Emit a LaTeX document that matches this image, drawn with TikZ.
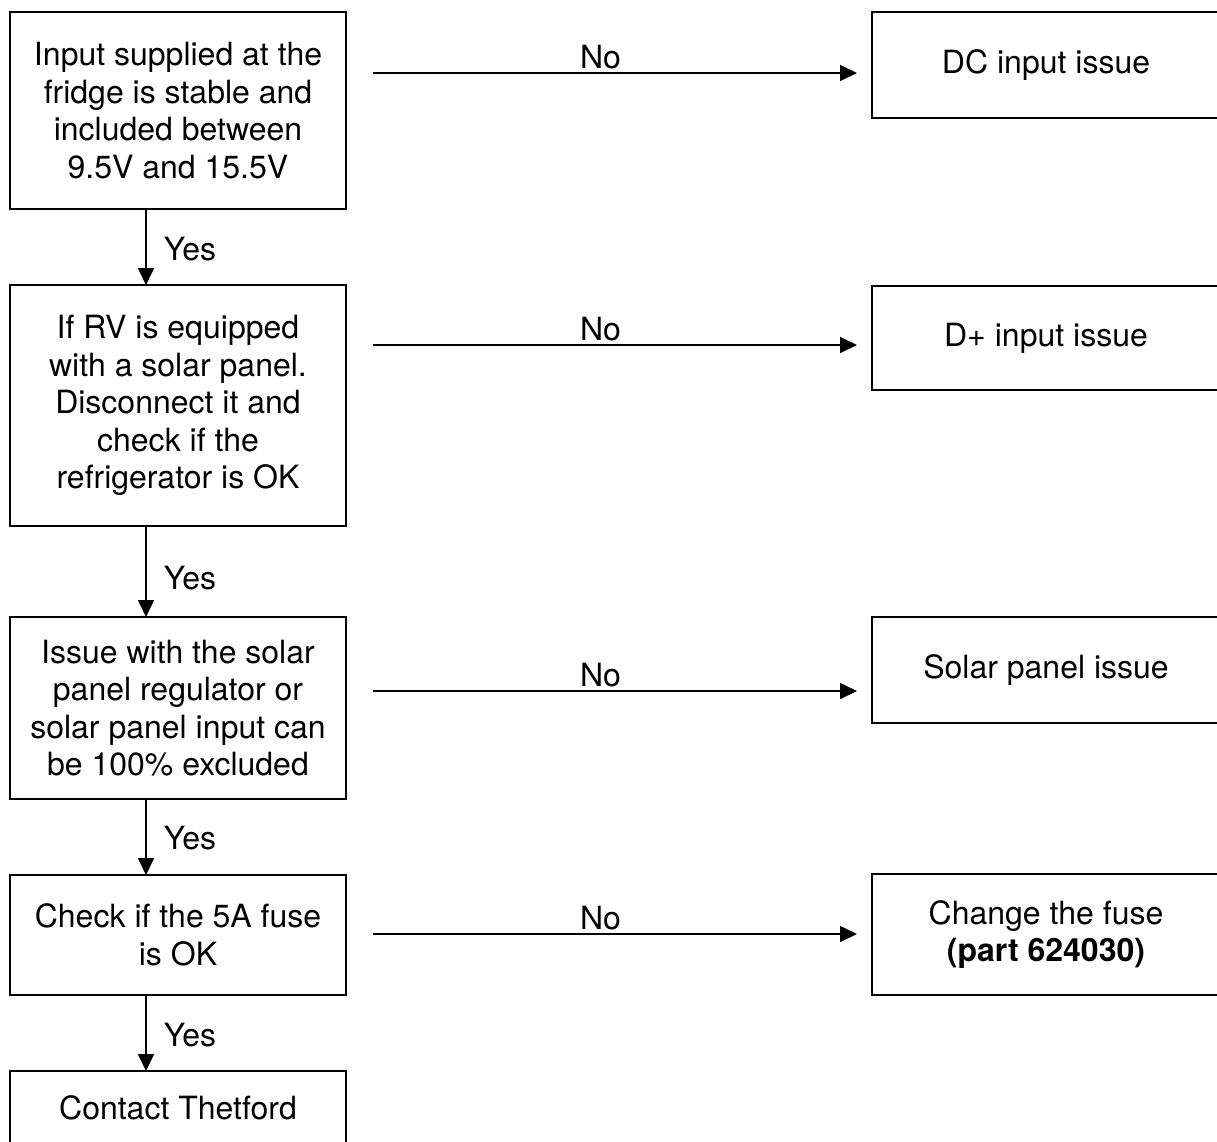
\documentclass[tikz,border=0pt]{standalone}
\usepackage{fontspec}
\setmainfont{TeX Gyre Heros}
\usetikzlibrary{arrows.meta}
\begin{document}
\begin{tikzpicture}[x=1pt,y=1pt,
  every node/.style={font=\fontsize{32}{37.5}\selectfont},
  box/.style={draw=black, line width=1.6pt, rectangle, inner sep=0pt, outer sep=0pt, align=center},
  leftbox/.style={box, minimum width=336pt},
  rightbox/.style={box, minimum width=348pt},
  arr/.style={line width=1.6pt, -{Triangle[length=17pt,width=16pt]}},
  lab/.style={inner sep=0pt}
]
\useasboundingbox (0,0) rectangle (1217,-1141);
\clip (0,0) rectangle (1217,-1141);

% left column
\node[leftbox, minimum height=197pt] (b1) at (178,-110.5)
  {Input supplied at the\\fridge is stable and\\included between\\9.5V and 15.5V};
\node[leftbox, minimum height=241pt] (b2) at (178,-405.5)
  {If RV is equipped\\with a solar panel.\\Disconnect it and\\check if the\\refrigerator is OK};
\node[leftbox, minimum height=182pt] (b3) at (178,-708)
  {Issue with the solar\\panel regulator or\\solar panel input can\\be 100\% excluded};
\node[leftbox, minimum height=120pt] (b4) at (178,-935)
  {Check if the 5A fuse\\is OK};
\node[leftbox, minimum height=74pt] (b5) at (178,-1108)
  {Contact Thetford};

% right column
\node[rightbox, minimum height=106pt] (r1) at (1046,-65) {DC input issue};
\node[rightbox, minimum height=104pt] (r2) at (1046,-338) {D+ input issue};
\node[rightbox, minimum height=106pt] (r3) at (1046,-670) {Solar panel issue};
\node[rightbox, minimum height=121pt] (r4) at (1046,-934.5)
  {Change the fuse\\\textbf{(part 624030)}};

% vertical "Yes" arrows
\draw[arr] ([xshift=-32pt]b1.south) -- node[lab, pos=0.53, anchor=west, xshift=17pt] {Yes} ([xshift=-32pt]b2.north);
\draw[arr] ([xshift=-32pt]b2.south) -- node[lab, pos=0.57, anchor=west, xshift=17pt] {Yes} ([xshift=-32pt]b3.north);
\draw[arr] ([xshift=-32pt]b3.south) -- node[lab, pos=0.51, anchor=west, xshift=17pt] {Yes} ([xshift=-32pt]b4.north);
\draw[arr] ([xshift=-32pt]b4.south) -- node[lab, pos=0.53, anchor=west, xshift=17pt] {Yes} ([xshift=-32pt]b5.north);

% horizontal "No" arrows
\coordinate (n1s) at (373,-73);  \coordinate (n1e) at (857,-73);
\coordinate (n2s) at (373,-345); \coordinate (n2e) at (857,-345);
\coordinate (n3s) at (373,-691); \coordinate (n3e) at (857,-691);
\coordinate (n4s) at (373,-934); \coordinate (n4e) at (857,-934);
\draw[arr] (n1s) -- node[lab, pos=0.47, above=3.5pt] {No} (n1e);
\draw[arr] (n2s) -- node[lab, pos=0.47, above=3.5pt] {No} (n2e);
\draw[arr] (n3s) -- node[lab, pos=0.47, above=3.5pt] {No} (n3e);
\draw[arr] (n4s) -- node[lab, pos=0.47, above=3.5pt] {No} (n4e);
\end{tikzpicture}
\end{document}
